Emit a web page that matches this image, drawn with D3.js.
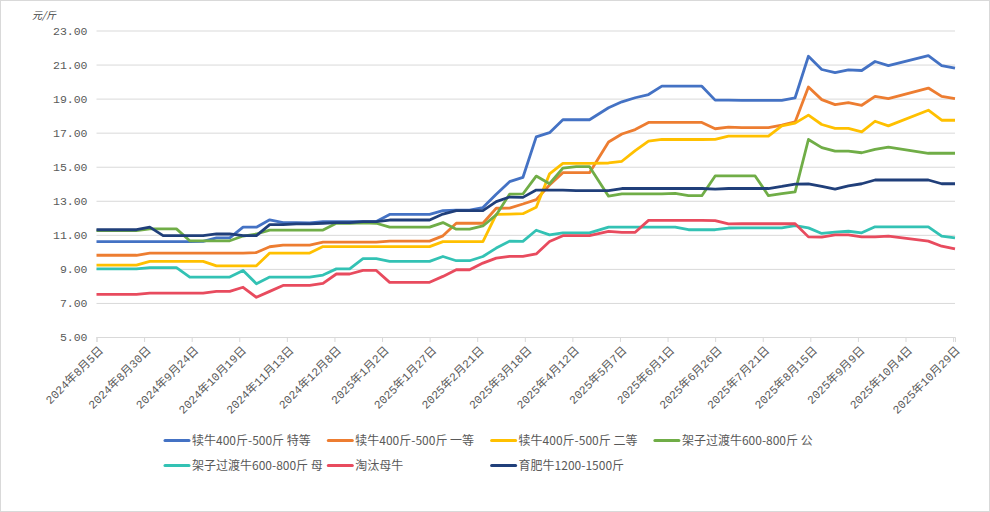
<!DOCTYPE html>
<html>
<head>
<meta charset="utf-8">
<script src="https://cdn.jsdelivr.net/npm/d3@7/dist/d3.min.js"></script>
<style>
  body { margin: 0; background: #fff; }
  svg { display: block; }
  .axis text { fill: #595959; }
</style>
</head>
<body>
<div id="chart"></div>
<script>
// weekly dates: Mondays to 21 Apr, then Thursdays (Oct holiday weeks missing)
var dates = [
  "2024-08-05","2024-08-12","2024-08-19","2024-08-26",
  "2024-09-02","2024-09-09","2024-09-16","2024-09-23","2024-09-30",
  "2024-10-07","2024-10-14","2024-10-21","2024-10-28",
  "2024-11-04","2024-11-11","2024-11-18","2024-11-25",
  "2024-12-02","2024-12-09","2024-12-16","2024-12-23","2024-12-30",
  "2025-01-06","2025-01-13","2025-01-20","2025-01-27",
  "2025-02-03","2025-02-10","2025-02-17","2025-02-24",
  "2025-03-03","2025-03-10","2025-03-17","2025-03-24","2025-03-31",
  "2025-04-07","2025-04-14","2025-04-21",
  "2025-05-01","2025-05-08","2025-05-15","2025-05-22","2025-05-29",
  "2025-06-05","2025-06-12","2025-06-19","2025-06-26",
  "2025-07-03","2025-07-10","2025-07-17","2025-07-24","2025-07-31",
  "2025-08-07","2025-08-14","2025-08-21","2025-08-28",
  "2025-09-04","2025-09-11","2025-09-18","2025-09-25",
  "2025-10-16","2025-10-23","2025-10-30"
];

var seriesNames = ["犊牛400斤-500斤 特等", "犊牛400斤-500斤 一等", "犊牛400斤-500斤 二等",
  "架子过渡牛600-800斤 公", "架子过渡牛600-800斤 母", "淘汰母牛", "育肥牛1200-1500斤"];
var colors = ["#4472C4", "#ED7D31", "#FFC000", "#70AD47", "#33C2B4", "#E84B5E", "#203F7A"];

var calfTop = [
  10.6,10.6,10.6,10.6, 10.6,10.6,10.6,10.6,10.62, 10.82,10.82,11.45,11.45,
  11.88,11.72,11.72,11.7, 11.78,11.78,11.78,11.78,11.78, 12.2,12.2,12.2,12.2,
  12.42,12.45,12.45,12.6, 13.38,14.12,14.37,16.75,17.0, 17.76,17.76,17.76,
  18.46,18.81,19.05,19.24,19.73, 19.73,19.73,19.73,18.91, 18.91,18.9,18.9,18.9,18.9,
  19.05,21.49,20.71,20.53, 20.69,20.65,21.18,20.94, 21.53,20.94,20.79
];
var calfFirst = [
  9.8,9.8,9.8,9.8, 9.93,9.93,9.93,9.93,9.93, 9.93,9.93,9.93,9.96,
  10.3,10.4,10.4,10.4, 10.57,10.57,10.57,10.57,10.57, 10.63,10.63,10.63,10.63,
  10.94,11.68,11.68,11.68, 12.56,12.57,12.81,13.07,13.93, 14.65,14.65,14.65,
  16.45,16.92,17.18,17.6,17.6, 17.6,17.6,17.6,17.23, 17.33,17.3,17.3,17.3,17.44,
  17.63,19.68,18.94,18.65, 18.76,18.61,19.13,19.0, 19.62,19.13,19.0
];
var calfSecond = [
  9.22,9.22,9.22,9.22, 9.44,9.44,9.44,9.44,9.44, 9.18,9.18,9.18,9.18,
  9.93,9.93,9.93,9.93, 10.31,10.31,10.31,10.31,10.31, 10.31,10.31,10.31,10.31,
  10.6,10.6,10.6,10.6, 12.2,12.22,12.24,12.62,14.58, 15.2,15.2,15.2,
  15.22,15.32,15.95,16.5,16.6, 16.6,16.6,16.6,16.61, 16.8,16.8,16.8,16.8,17.4,
  17.56,18.03,17.48,17.25, 17.25,17.05,17.67,17.4, 18.32,17.73,17.73
];
var stockerBull = [
  11.25,11.25,11.25,11.25, 11.35,11.35,11.35,10.65,10.65, 10.65,10.65,10.93,11.05,
  11.28,11.28,11.28,11.28, 11.28,11.68,11.68,11.7,11.68, 11.45,11.45,11.45,11.45,
  11.72,11.33,11.33,11.52, 12.17,13.39,13.4,14.45,14.0, 14.92,15.0,15.0,
  13.27,13.4,13.4,13.4,13.41, 13.43,13.3,13.3,14.46, 14.46,14.46,14.46,13.3,13.42,
  13.52,16.6,16.12,15.92, 15.92,15.82,16.02,16.15, 15.79,15.79,15.79
];
var stockerCow = [
  9.0,9.0,9.0,9.0, 9.07,9.07,9.07,8.52,8.52, 8.52,8.52,8.91,8.13,
  8.52,8.52,8.52,8.52, 8.64,9.0,9.0,9.6,9.6, 9.44,9.44,9.44,9.44,
  9.73,9.48,9.48,9.73, 10.22,10.63,10.62,11.27,11.0, 11.12,11.12,11.12,
  11.45,11.45,11.45,11.45,11.45, 11.45,11.3,11.3,11.3, 11.4,11.41,11.41,11.41,11.41,
  11.54,11.41,11.08,11.16, 11.21,11.12,11.47,11.47, 11.47,10.92,10.82
];
var cullCow = [
  7.5,7.5,7.5,7.5, 7.58,7.58,7.58,7.58,7.58, 7.68,7.68,7.92,7.33,
  7.68,8.03,8.03,8.03, 8.15,8.7,8.7,8.91,8.91, 8.21,8.21,8.21,8.21,
  8.56,8.95,8.95,9.34, 9.63,9.74,9.74,9.88,10.61, 10.95,10.95,10.95,
  11.2,11.15,11.15,11.85,11.85, 11.85,11.85,11.85,11.84, 11.64,11.65,11.65,11.65,11.65,
  11.65,10.88,10.86,11.0, 11.0,10.88,10.88,10.92, 10.63,10.33,10.17
];
var fattening = [
  11.3,11.3,11.3,11.3, 11.45,10.95,10.95,10.95,10.95, 11.05,11.05,10.95,10.95,
  11.6,11.6,11.64,11.64, 11.68,11.72,11.72,11.78,11.78, 11.87,11.87,11.87,11.87,
  12.22,12.42,12.42,12.42, 12.95,13.22,13.2,13.63,13.63, 13.62,13.6,13.6,
  13.6,13.72,13.72,13.72,13.72, 13.72,13.72,13.72,13.68, 13.72,13.72,13.72,13.72,13.84,
  13.98,13.99,13.84,13.68, 13.88,14.0,14.22,14.22, 14.22,14.0,14.0
];

var tickDates = ["2024-08-05","2024-08-30","2024-09-24","2024-10-19","2024-11-13","2024-12-08",
  "2025-01-02","2025-01-27","2025-02-21","2025-03-18","2025-04-12","2025-05-07","2025-06-01",
  "2025-06-26","2025-07-21","2025-08-15","2025-09-09","2025-10-04","2025-10-29"];
var yTicks = [5, 7, 9, 11, 13, 15, 17, 19, 21, 23];

var allSeries = [calfTop, calfFirst, calfSecond, stockerBull, stockerCow, cullCow, fattening];

var W = 990, H = 512;
var parse = d3.utcParse("%Y-%m-%d");
var fmt = d3.utcFormat("%Y年%-m月%-d日");

var svg = d3.select("#chart").append("svg")
    .attr("width", W).attr("height", H);

svg.append("rect")
    .attr("x", 0.5).attr("y", 0.5)
    .attr("width", W - 1).attr("height", H - 1)
    .attr("fill", "#fff").attr("stroke", "#d9d9d9");

var x = d3.scaleUtc()
    .domain([parse("2024-08-05"), parse("2025-10-30")])
    .range([96.5, 955]);
var y = d3.scaleLinear().domain([5, 23]).range([337, 30.5]);

// y axis + grid
var gy = svg.append("g").attr("class", "axis")
    .attr("transform", "translate(96.5,0)")
    .call(d3.axisLeft(y).tickValues(yTicks).tickFormat(d3.format(".2f"))
        .tickSize(-(955 - 96.5)).tickPadding(9));
gy.select(".domain").remove();
gy.selectAll(".tick line").attr("stroke", "#d9d9d9");
gy.selectAll("text")
    .style("font-family", "'Liberation Mono', monospace")
    .style("font-size", "11.5px");

// x axis
var gx = svg.append("g").attr("class", "axis")
    .attr("transform", "translate(0,337)")
    .call(d3.axisBottom(x).tickValues(tickDates.map(parse)).tickFormat(fmt).tickSize(5));
gx.select(".domain").attr("stroke", "#d9d9d9");
gx.selectAll(".tick line").attr("stroke", "#d9d9d9");
gx.selectAll("text")
    .style("font-family", "'Liberation Mono', 'Noto Sans CJK SC', monospace")
    .style("font-size", "11.5px")
    .attr("text-anchor", "end")
    .attr("x", 0).attr("y", 0).attr("dy", 0)
    .attr("transform", "translate(7,14) rotate(-45)");

svg.append("text")
    .attr("x", 32).attr("y", 19)
    .attr("fill", "#404040")
    .style("font-family", "'Noto Sans CJK SC', sans-serif")
    .style("font-size", "10px")
    .style("font-style", "italic")
    .text("元/斤");

var line = d3.line()
    .x(function(d) { return x(d[0]); })
    .y(function(d) { return y(d[1]); });

allSeries.forEach(function(vals, i) {
    var pts = dates.map(function(d, j) { return [parse(d), vals[j]]; });
    svg.append("path")
        .datum(pts)
        .attr("fill", "none")
        .attr("stroke", colors[i])
        .attr("stroke-width", 2.8)
        .attr("stroke-linejoin", "round")
        .attr("d", line);
});

// legend
var legend = svg.append("g");
seriesNames.forEach(function(name, i) {
    var lx = 165 + (i % 4) * 163.3;
    var ly = i < 4 ? 440.5 : 465.5;
    var g = legend.append("g").attr("transform", "translate(" + lx + "," + ly + ")");
    g.append("line").attr("x1", 0).attr("x2", 24)
        .attr("stroke", colors[i]).attr("stroke-width", 3).attr("stroke-linecap", "round");
    g.append("text").attr("x", 27).attr("y", 4.5)
        .attr("fill", "#595959")
        .style("font-family", "'Noto Sans CJK SC', sans-serif")
        .style("font-size", "12px")
        .text(name);
});
</script>
</body>
</html>
